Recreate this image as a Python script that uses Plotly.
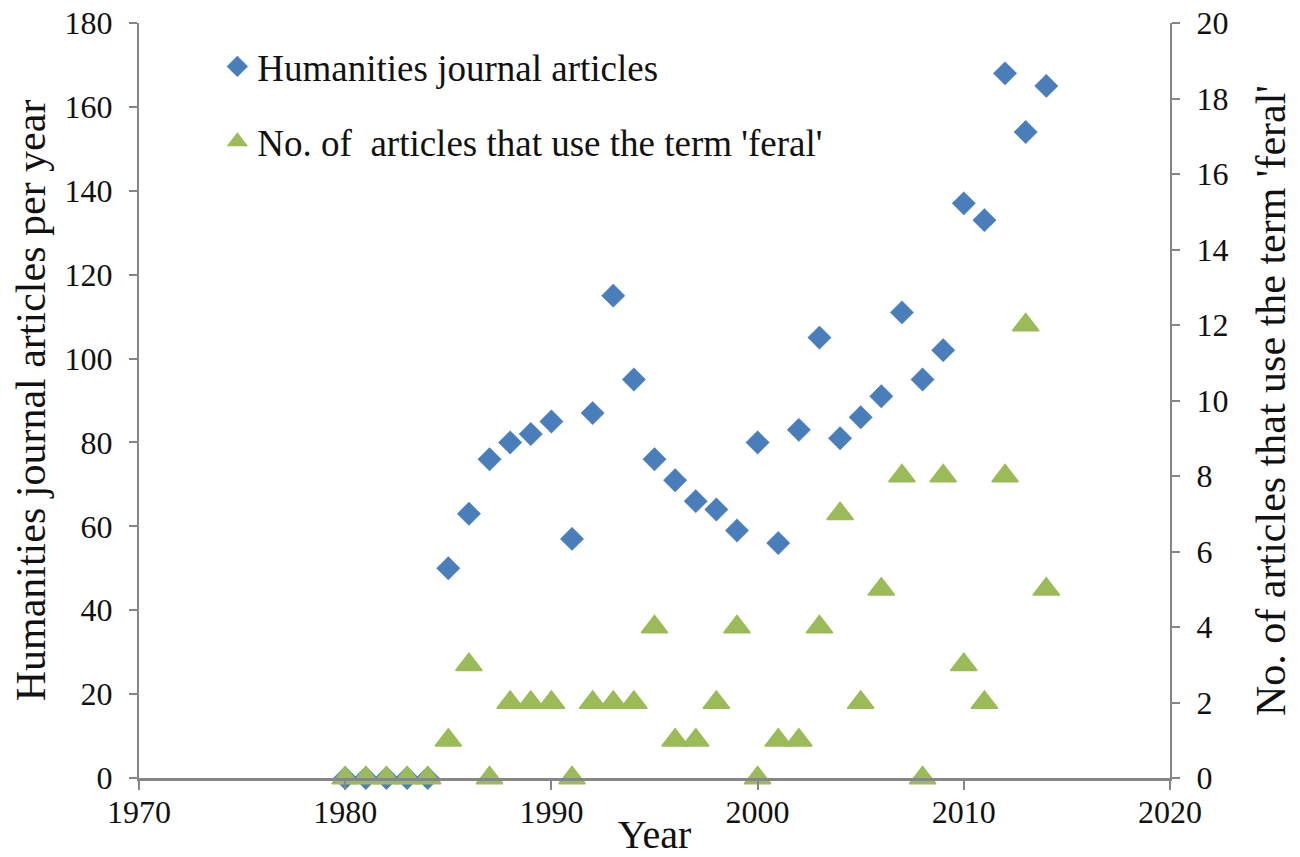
import plotly.graph_objects as go

years = list(range(1980, 2015))
humanities_articles = [0, 0, 0, 0, 0, 50, 63, 76, 80, 82, 85, 57, 87, 115, 95,
                       76, 71, 66, 64, 59, 80, 56, 83, 105, 81, 86, 91, 111, 95,
                       102, 137, 133, 168, 154, 165]
feral_articles = [0, 0, 0, 0, 0, 1, 3, 0, 2, 2, 2, 0, 2, 2, 2,
                  4, 1, 1, 2, 4, 0, 1, 1, 4, 7, 2, 5, 8, 0,
                  8, 3, 2, 8, 12, 5]

x_ticks = [1970, 1980, 1990, 2000, 2010, 2020]
y1_ticks = list(range(0, 181, 20))
y2_ticks = list(range(0, 21, 2))

FONT = "Liberation Serif"
AX = "#868686"

fig = go.Figure()
fig.add_trace(go.Scatter(
    x=years, y=humanities_articles, mode="markers",
    name="Humanities journal articles",
    marker=dict(symbol="diamond", size=18, color="#4a7ebb",
                line=dict(width=0.5, color="#4a7ebb")),
    cliponaxis=False, legendgroup="a",
))
fig.add_trace(go.Scatter(
    x=years, y=feral_articles, mode="markers", yaxis="y2",
    name="No. of  articles that use the term 'feral'",
    marker=dict(symbol="triangle-up", size=23, color="#9bbb59",
                line=dict(width=1.5, color="#9bbb59")),
    cliponaxis=False, legendgroup="b",
))

fig.update_layout(
    width=1292, height=849,
    margin=dict(l=131, r=130, t=15, b=79),
    paper_bgcolor="white", plot_bgcolor="white",
    font=dict(family=FONT, size=32, color="#111111"),
    showlegend=True,
    legend=dict(x=0.076, y=0.983, xanchor="left", yanchor="top",
                font=dict(family=FONT, size=37, color="#111111"),
                bgcolor="rgba(0,0,0,0)", tracegroupgap=24,
                itemsizing="trace"),
    xaxis=dict(range=[1970, 2020], tickvals=x_ticks, showgrid=False,
               zeroline=False, showline=True, linecolor=AX, linewidth=3,
               ticks="outside", ticklen=9, tickwidth=2, tickcolor=AX,
               tickfont=dict(family=FONT, size=32), automargin=False,
               ticklabelstandoff=-5, ticklabeloverflow="allow",
               title=dict(text="Year", font=dict(family=FONT, size=40), standoff=0)),
    yaxis=dict(range=[0, 180], tickvals=y1_ticks, showgrid=False,
               zeroline=False, showline=True, linecolor=AX, linewidth=2,
               ticks="outside", ticklen=8, tickwidth=2, tickcolor=AX,
               tickfont=dict(family=FONT, size=32), automargin=False,
               ticklabelstandoff=10, ticklabeloverflow="allow",
               title=dict(text="Humanities journal articles per year",
                          font=dict(family=FONT, size=42), standoff=12)),
    yaxis2=dict(range=[0, 20], tickvals=y2_ticks, overlaying="y", side="right",
                showgrid=False, zeroline=False, showline=True, linecolor=AX,
                linewidth=2, ticks="outside", ticklen=8, tickwidth=2, tickcolor=AX,
                tickfont=dict(family=FONT, size=32), automargin=False,
                ticklabelstandoff=10, ticklabeloverflow="allow",
                title=dict(text="No. of articles that use the term 'feral'",
                           font=dict(family=FONT, size=42), standoff=28)),
)

fig.write_html("out.html")
